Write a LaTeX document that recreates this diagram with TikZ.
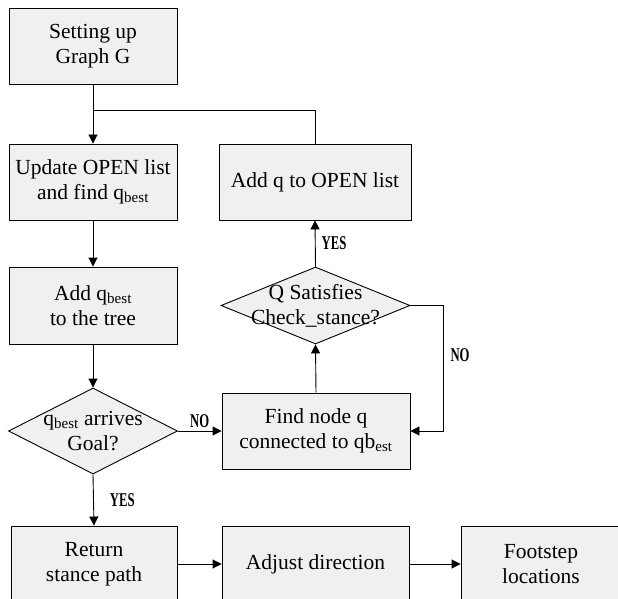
\documentclass[tikz,border=0pt]{standalone}
\usepackage{fontspec}
\setmainfont{Liberation Serif}
\newfontfamily\lblfont[FakeStretch=0.65]{Liberation Serif}
\usetikzlibrary{arrows.meta,shapes.geometric}
\definecolor{boxgray}{HTML}{F0F0F0}
\begin{document}
\begin{tikzpicture}[x=1pt,y=-1pt,
  box/.style={draw=black, fill=boxgray, line width=0.9pt, rectangle, inner sep=0pt, align=center, font=\fontsize{21.5}{25}\selectfont},
  dia/.style={draw=black, fill=boxgray, line width=0.9pt, diamond, inner sep=0pt},
  txt/.style={align=center, inner sep=0pt, font=\fontsize{21.5}{25}\selectfont},
  lbl/.style={inner sep=0pt, font=\fontsize{19.5}{19.5}\lblfont\bfseries},
  conn/.style={line width=0.9pt, -{Triangle[length=9pt,width=9pt]}},
  plain/.style={line width=0.9pt}]
\useasboundingbox (0,0) rectangle (618,599);
\clip (0,0) rectangle (618,599);
\fill[white] (0,0) rectangle (618,599);

\node[box, minimum width=168pt, minimum height=76pt] (setup) at (93,46) {Setting up\\Graph G};
\node[box, minimum width=168pt, minimum height=76pt] (update) at (93,182) {Update OPEN list\\and find q\textsubscript{best}};
\node[box, minimum width=168pt, minimum height=77pt] (tree) at (93,305.5) {Add q\textsubscript{best}\\to the tree};
\node[dia, minimum width=169pt, minimum height=86pt] (d1) at (93,431) {};
\node[txt] (d1t) at (93,431) {q\textsubscript{best} arrives\\Goal?};
\node[box, minimum width=166pt, minimum height=76pt] (ret) at (94,564) {Return\\stance path};

\node[box, minimum width=192pt, minimum height=76pt] (addq) at (315,182) {Add q to OPEN list};
\node[dia, minimum width=189pt, minimum height=77pt] (d2) at (315.5,305.5) {};
\node[txt] (d2t) at (315.5,305.5) {Q Satisfies\\Check\_stance?};
\node[box, minimum width=188pt, minimum height=76pt] (find) at (316,431) {Find node q\\connected to qb\textsubscript{est}};
\node[box, minimum width=187pt, minimum height=76pt] (adj) at (315.5,564) {Adjust direction};
\node[box, minimum width=160pt, minimum height=76pt] (foot) at (541,564) {Footstep\\locations};

\coordinate (j) at (93,110);
\coordinate (nr) at (443,305.5);

\draw[conn] (setup.south) -- (update.north);
\draw[plain] (addq.north) |- (j);
\draw[conn] (update.south) -- (tree.north);
\draw[conn] (tree.south) -- (d1.north);
\draw[conn] (d1.east) -- node[lbl, above=3pt] (no1) {NO} (find.west);
\draw[conn] (d1.south) -- node[lbl, right=16pt] (yes1) {YES} (ret.north);
\draw[conn] (find.north) -- (d2.south);
\draw[conn] (d2.north) -- node[lbl, right=6pt] (yes2) {YES} (addq.south);
\draw[conn] (d2.east) -- (nr) |- (find.east);
\node[lbl] (no2) at (460,355) {NO};
\draw[conn] (ret.east) -- (adj.west);
\draw[conn] (adj.east) -- (foot.west);
\end{tikzpicture}
\end{document}
